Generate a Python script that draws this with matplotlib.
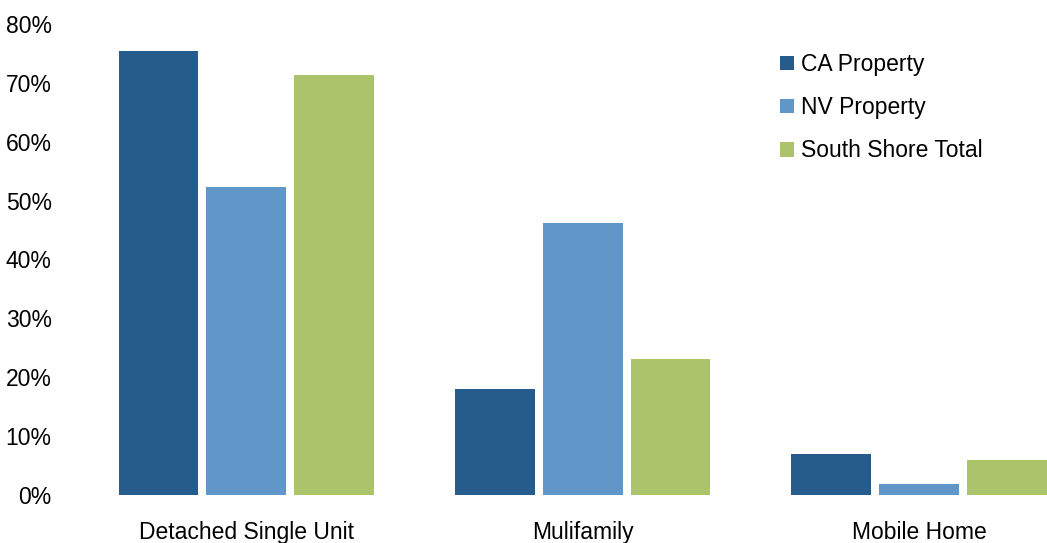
import matplotlib.pyplot as plt
import numpy as np

plt.rcParams['font.family'] = ['Liberation Sans', 'DejaVu Sans']

categories = ['Detached Single Unit', 'Mulifamily', 'Mobile Home']
series_names = ['CA Property', 'NV Property', 'South Shore Total']
ca_property = [75.4, 18.0, 7.0]
nv_property = [52.3, 46.2, 1.9]
south_shore_total = [71.3, 23.1, 5.9]
y_ticks = [0, 10, 20, 30, 40, 50, 60, 70, 80]

colors = ['#265C8C', '#6096C8', '#ABC46C']
fs = 16.5

fig = plt.figure(figsize=(10.47, 5.43), dpi=100)
ax = fig.add_axes([78 / 1047, 48 / 543, (1047 - 78) / 1047, 471 / 543])

x = np.arange(len(categories))
width = 0.237
step = 0.261
for i, (name, vals) in enumerate(zip(series_names, [ca_property, nv_property, south_shore_total])):
    ax.bar(x + (i - 1) * step, vals, width, color=colors[i], label=name)

ax.set_xlim(-0.5, 2.38)
ax.set_ylim(0, 80)
ax.set_yticks(y_ticks)
ax.set_yticklabels([f'{t}%' for t in y_ticks])
ax.set_xticks(x)
ax.set_xticklabels(categories)
ax.tick_params(axis='y', length=0, pad=19, labelsize=fs)
ax.tick_params(axis='x', length=0, pad=18.5, labelsize=fs)
for s in ax.spines.values():
    s.set_visible(False)

ax.legend(loc='upper left', bbox_to_anchor=(780 / 1047, 1 - 53 / 543),
          bbox_transform=fig.transFigure, frameon=False, fontsize=fs,
          handlelength=0.6, handleheight=0.6, handletextpad=0.3,
          labelspacing=0.88, borderaxespad=0, borderpad=0)

fig.savefig('out.png', dpi=100)
